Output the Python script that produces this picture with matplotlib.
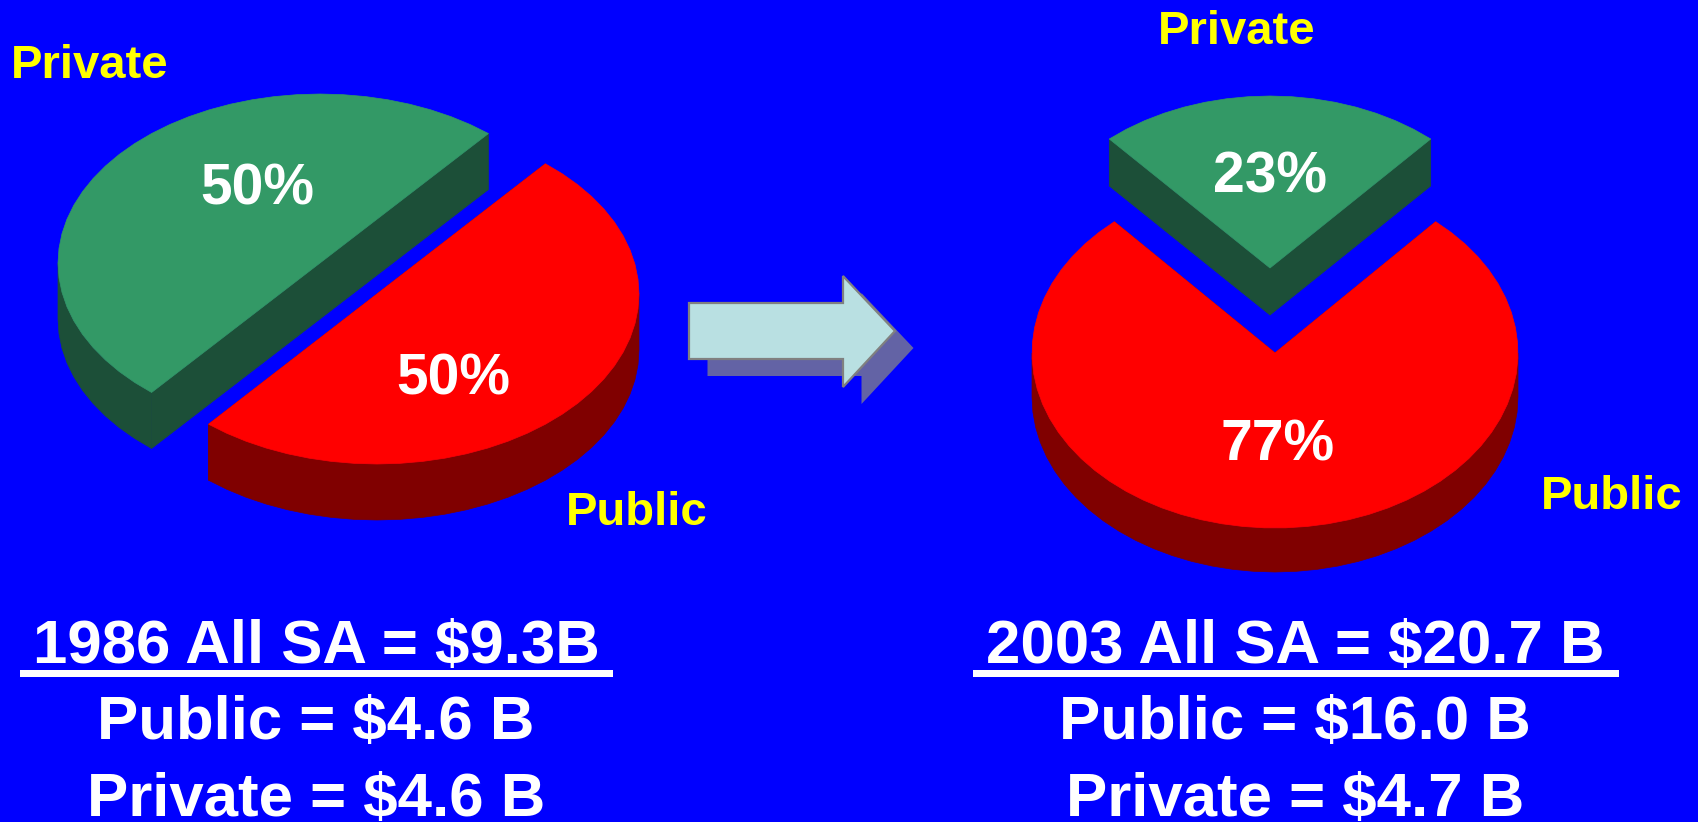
import numpy as np
import matplotlib
matplotlib.use("Agg")
import matplotlib.pyplot as plt
from matplotlib.patches import Polygon

# ---- data ----
categories = ["Private", "Public"]
shares_1986 = [50, 50]
shares_2003 = [23, 77]
titles = ["1986 All SA = $9.3B", "2003 All SA = $20.7 B"]
public_lines = ["Public = $4.6 B", "Public = $16.0 B"]
private_lines = ["Private = $4.6 B", "Private = $4.7 B"]

# ---- style ----
BG = "#0000ff"
TOP = {"Private": "#339966", "Public": "#ff0000"}
SIDE = {"Private": "#1c4f38", "Public": "#800000"}
YELLOW = "#ffff00"
FONT = "Liberation Sans"

fig = plt.figure(figsize=(16.99, 8.22), dpi=100, facecolor=BG)
ax = fig.add_axes([0, 0, 1, 1])
ax.set_xlim(0, 1699)
ax.set_ylim(822, 0)
ax.axis("off")


def rim(c, rx, ry, a0, a1, step=5.0):
    n = max(2, int(abs(a1 - a0) / step) + 1)
    t = np.radians(np.linspace(a0, a1, n))
    return np.column_stack([c[0] + rx * np.cos(t), c[1] - ry * np.sin(t)])


def wedge3d(c, rx, ry, depth, a0, a1, name, z):
    """Extruded pie wedge; a0..a1 in degrees, counter-clockwise."""
    side, top = SIDE[name], TOP[name]
    down = np.array([0, depth])
    cp = np.array(c, float)
    kw = dict(facecolor=side, edgecolor=side, linewidth=0.5, zorder=z)
    # cut faces
    for a in (a0, a1):
        p = rim(c, rx, ry, a, a, 1)[0]
        ax.add_patch(Polygon([cp, p, p + down, cp + down], closed=True, **kw))
    # outer wall: only the front half (180..360 degrees, modulo turns)
    for k in (0, 360, -360):
        lo, hi = max(a0, 180 + k), min(a1, 360 + k)
        if hi > lo:
            r = rim(c, rx, ry, lo, hi)
            ax.add_patch(Polygon(np.vstack([r, (r + down)[::-1]]), closed=True, **kw))
    # top
    r = rim(c, rx, ry, a0, a1)
    ax.add_patch(Polygon(np.vstack([cp, r]), closed=True, facecolor=top,
                         edgecolor=top, linewidth=0.5, zorder=z + 1))


def pie3d(shares, start, centres, radii, depths):
    a = start
    for name, v, c, (rx, ry), d in zip(categories, shares, centres, radii, depths):
        sweep = 3.6 * v
        z = 3 if name == "Private" else 2
        wedge3d(c, rx, ry, d, a, a + sweep, name, z)
        a += sweep


pie3d(shares_1986, 50, [(320, 263), (377, 294)], [(262, 169), (262, 170)], [56, 56])
pie3d(shares_2003, 48.6, [(1270, 268), (1275, 353)], [(243, 172), (243, 175)], [47, 44])

# ---- arrow ----
arrow = np.array([(689, 303), (843, 303), (843, 276), (895, 331),
                  (843, 387), (843, 359), (689, 359)], float)
ax.add_patch(Polygon(arrow + (18.5, 17), closed=True, facecolor="#6363a5",
                     edgecolor="none", zorder=5))
ax.add_patch(Polygon(arrow, closed=True, facecolor="#b9e0e2", edgecolor="#808080",
                     linewidth=1.6, joinstyle="miter", zorder=6))


def put(x, y, s, color, size):
    ax.text(x, y, s, color=color, fontsize=size, fontweight="bold", family=FONT,
            ha="center", va="baseline", zorder=10)


# ---- labels ----
put(90, 78, categories[0], YELLOW, 34)
put(637, 525, categories[1], YELLOW, 34)
put(1237, 44, categories[0], YELLOW, 34)
put(1612, 509, categories[1], YELLOW, 34)

put(257, 204, f"{shares_1986[0]}%", "white", 41)
put(453, 394, f"{shares_1986[1]}%", "white", 41)
put(1270, 192, f"{shares_2003[0]}%", "white", 41)
put(1278, 460, f"{shares_2003[1]}%", "white", 41)

# ---- text blocks ----
for xc, t, pu, pr, (u0, u1) in zip((316, 1295), titles, public_lines, private_lines,
                                   ((20, 613), (973, 1619))):
    put(xc, 663, t, "white", 44.5)
    put(xc, 739, pu, "white", 44.5)
    put(xc, 816, pr, "white", 44.5)
    ax.fill_between([u0, u1], 670, 677, color="white", linewidth=0, zorder=9)

fig.savefig("out.png", dpi=100, facecolor=BG)
